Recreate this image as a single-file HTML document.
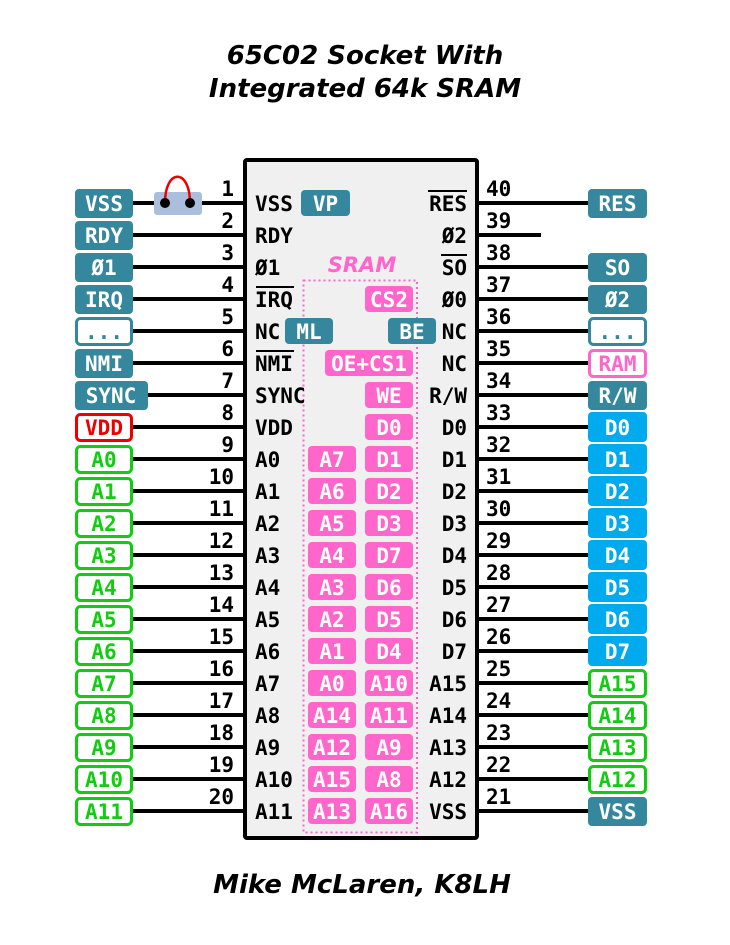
<!DOCTYPE html>
<html><head><meta charset="utf-8"><style>
html,body{margin:0;padding:0;background:#fff}
svg{display:block}
.m{font-family:"DejaVu Sans Mono","Liberation Mono",monospace;font-weight:bold;font-size:21px}
.t{font-family:"DejaVu Sans","Liberation Sans",sans-serif;font-weight:bold;font-style:italic}
</style></head><body>
<svg width="730" height="945" viewBox="0 0 730 945" xmlns="http://www.w3.org/2000/svg">
<text class="t" x="365" y="64" font-size="26" text-anchor="middle">65C02 Socket With</text>
<text class="t" x="365" y="97" font-size="26" text-anchor="middle">Integrated 64k SRAM</text>
<text class="t" x="362" y="893" font-size="26" text-anchor="middle">Mike McLaren, K8LH</text>

<rect x="245" y="160" width="232" height="678" fill="#f0f0f0" stroke="#000" stroke-width="4" rx="2"/>
<rect x="303.5" y="280.5" width="113.5" height="552" fill="none" stroke="#ff66cc" stroke-width="2" stroke-dasharray="2,3"/>
<text class="t" x="362" y="272" font-size="21" fill="#ff66cc" text-anchor="middle">SRAM</text>

<g stroke="#000" stroke-width="4">
<line x1="133" y1="203" x2="245" y2="203"/><line x1="133" y1="235" x2="245" y2="235"/><line x1="133" y1="267" x2="245" y2="267"/><line x1="133" y1="299" x2="245" y2="299"/><line x1="133" y1="331" x2="245" y2="331"/><line x1="133" y1="363" x2="245" y2="363"/><line x1="133" y1="395" x2="245" y2="395"/><line x1="133" y1="427" x2="245" y2="427"/><line x1="133" y1="459" x2="245" y2="459"/><line x1="133" y1="491" x2="245" y2="491"/><line x1="133" y1="523" x2="245" y2="523"/><line x1="133" y1="555" x2="245" y2="555"/><line x1="133" y1="587" x2="245" y2="587"/><line x1="133" y1="619" x2="245" y2="619"/><line x1="133" y1="651" x2="245" y2="651"/><line x1="133" y1="683" x2="245" y2="683"/><line x1="133" y1="715" x2="245" y2="715"/><line x1="133" y1="747" x2="245" y2="747"/><line x1="133" y1="779" x2="245" y2="779"/><line x1="133" y1="811" x2="245" y2="811"/>
<line x1="477" y1="203" x2="588" y2="203"/><line x1="477" y1="235" x2="541" y2="235"/><line x1="477" y1="267" x2="588" y2="267"/><line x1="477" y1="299" x2="588" y2="299"/><line x1="477" y1="331" x2="588" y2="331"/><line x1="477" y1="363" x2="588" y2="363"/><line x1="477" y1="395" x2="588" y2="395"/><line x1="477" y1="427" x2="588" y2="427"/><line x1="477" y1="459" x2="588" y2="459"/><line x1="477" y1="491" x2="588" y2="491"/><line x1="477" y1="523" x2="588" y2="523"/><line x1="477" y1="555" x2="588" y2="555"/><line x1="477" y1="587" x2="588" y2="587"/><line x1="477" y1="619" x2="588" y2="619"/><line x1="477" y1="651" x2="588" y2="651"/><line x1="477" y1="683" x2="588" y2="683"/><line x1="477" y1="715" x2="588" y2="715"/><line x1="477" y1="747" x2="588" y2="747"/><line x1="477" y1="779" x2="588" y2="779"/><line x1="477" y1="811" x2="588" y2="811"/>
</g>

<rect x="154" y="192" width="48" height="23" rx="3" fill="#aabfdd"/>
<path d="M165,203 C165,168 190,168 190,203" fill="none" stroke="#ee0000" stroke-width="2.5"/>
<circle cx="165" cy="203" r="5" fill="#000"/><circle cx="190" cy="203" r="5" fill="#000"/>

<g class="m" text-anchor="middle">
<g fill="#35879e">
<rect x="75" y="189" width="58" height="29" rx="4"/><rect x="75" y="221" width="58" height="29" rx="4"/><rect x="75" y="253" width="58" height="29" rx="4"/><rect x="75" y="285" width="58" height="29" rx="4"/><rect x="75" y="349" width="58" height="29" rx="4"/><rect x="75" y="381" width="73" height="29" rx="4"/>
</g>
<rect x="76.5" y="318.5" width="55" height="26" rx="4" fill="#fff" stroke="#35879e" stroke-width="3"/>
<rect x="76.5" y="414.5" width="55" height="26" rx="4" fill="#fff" stroke="#ee0000" stroke-width="3"/>
<g fill="#fff" stroke="#11cc11" stroke-width="3">
<rect x="76.5" y="446.5" width="55" height="26" rx="4"/><rect x="76.5" y="478.5" width="55" height="26" rx="4"/><rect x="76.5" y="510.5" width="55" height="26" rx="4"/><rect x="76.5" y="542.5" width="55" height="26" rx="4"/><rect x="76.5" y="574.5" width="55" height="26" rx="4"/><rect x="76.5" y="606.5" width="55" height="26" rx="4"/><rect x="76.5" y="638.5" width="55" height="26" rx="4"/><rect x="76.5" y="670.5" width="55" height="26" rx="4"/><rect x="76.5" y="702.5" width="55" height="26" rx="4"/><rect x="76.5" y="734.5" width="55" height="26" rx="4"/><rect x="76.5" y="766.5" width="55" height="26" rx="4"/><rect x="76.5" y="798.5" width="55" height="26" rx="4"/>
</g>
<g fill="#fff">
<text x="104" y="211">VSS</text><text x="104" y="243">RDY</text><text x="104" y="275">Ø1</text><text x="104" y="307">IRQ</text><text x="104" y="339" fill="#35879e">...</text><text x="104" y="371">NMI</text><text x="111" y="403">SYNC</text>
</g>
<text x="104" y="435" fill="#ee0000">VDD</text>
<g fill="#11cc11">
<text x="104" y="467">A0</text><text x="104" y="499">A1</text><text x="104" y="531">A2</text><text x="104" y="563">A3</text><text x="104" y="595">A4</text><text x="104" y="627">A5</text><text x="104" y="659">A6</text><text x="104" y="691">A7</text><text x="104" y="723">A8</text><text x="104" y="755">A9</text><text x="104" y="787">A10</text><text x="104" y="819">A11</text>
</g>
</g>

<g class="m" text-anchor="middle">
<g fill="#35879e">
<rect x="588" y="189" width="59" height="29" rx="4"/><rect x="588" y="253" width="59" height="29" rx="4"/><rect x="588" y="285" width="59" height="29" rx="4"/><rect x="588" y="381" width="59" height="29" rx="4"/><rect x="588" y="797" width="59" height="29" rx="4"/>
</g>
<rect x="589.5" y="318.5" width="56" height="26" rx="4" fill="#fff" stroke="#35879e" stroke-width="3"/>
<rect x="589.5" y="350.5" width="56" height="26" rx="4" fill="#fff" stroke="#ff66cc" stroke-width="3"/>
<g fill="#00aaee">
<rect x="588" y="412" width="59" height="30" rx="4"/><rect x="588" y="444" width="59" height="30" rx="4"/><rect x="588" y="476" width="59" height="30" rx="4"/><rect x="588" y="508" width="59" height="30" rx="4"/><rect x="588" y="540" width="59" height="30" rx="4"/><rect x="588" y="572" width="59" height="30" rx="4"/><rect x="588" y="604" width="59" height="30" rx="4"/><rect x="588" y="636" width="59" height="30" rx="4"/>
</g>
<g fill="#fff" stroke="#11cc11" stroke-width="3">
<rect x="589.5" y="670.5" width="56" height="26" rx="4"/><rect x="589.5" y="702.5" width="56" height="26" rx="4"/><rect x="589.5" y="734.5" width="56" height="26" rx="4"/><rect x="589.5" y="766.5" width="56" height="26" rx="4"/>
</g>
<g fill="#fff">
<text x="617.5" y="211">RES</text><text x="617.5" y="275">SO</text><text x="617.5" y="307">Ø2</text><text x="617.5" y="403">R/W</text>
<text x="617.5" y="435">D0</text><text x="617.5" y="467">D1</text><text x="617.5" y="499">D2</text><text x="617.5" y="531">D3</text><text x="617.5" y="563">D4</text><text x="617.5" y="595">D5</text><text x="617.5" y="627">D6</text><text x="617.5" y="659">D7</text>
<text x="617.5" y="819">VSS</text>
</g>
<text x="617.5" y="339" fill="#35879e">...</text>
<text x="617.5" y="371" fill="#ff66cc">RAM</text>
<g fill="#11cc11">
<text x="617.5" y="691">A15</text><text x="617.5" y="723">A14</text><text x="617.5" y="755">A13</text><text x="617.5" y="787">A12</text>
</g>
</g>

<g class="m" text-anchor="end">
<text x="234" y="196">1</text><text x="234" y="228">2</text><text x="234" y="260">3</text><text x="234" y="292">4</text><text x="234" y="324">5</text><text x="234" y="356">6</text><text x="234" y="388">7</text><text x="234" y="420">8</text><text x="234" y="452">9</text><text x="234" y="484">10</text><text x="234" y="516">11</text><text x="234" y="548">12</text><text x="234" y="580">13</text><text x="234" y="612">14</text><text x="234" y="644">15</text><text x="234" y="676">16</text><text x="234" y="708">17</text><text x="234" y="740">18</text><text x="234" y="772">19</text><text x="234" y="804">20</text>
</g>
<g class="m">
<text x="486" y="196">40</text><text x="486" y="228">39</text><text x="486" y="260">38</text><text x="486" y="292">37</text><text x="486" y="324">36</text><text x="486" y="356">35</text><text x="486" y="388">34</text><text x="486" y="420">33</text><text x="486" y="452">32</text><text x="486" y="484">31</text><text x="486" y="516">30</text><text x="486" y="548">29</text><text x="486" y="580">28</text><text x="486" y="612">27</text><text x="486" y="644">26</text><text x="486" y="676">25</text><text x="486" y="708">24</text><text x="486" y="740">23</text><text x="486" y="772">22</text><text x="486" y="804">21</text>
</g>

<g class="m">
<text x="255" y="211">VSS</text><text x="255" y="243">RDY</text><text x="255" y="275">Ø1</text><text x="255" y="307">IRQ</text><text x="255" y="339">NC</text><text x="255" y="371">NMI</text><text x="255" y="403">SYNC</text><text x="255" y="435">VDD</text><text x="255" y="467">A0</text><text x="255" y="499">A1</text><text x="255" y="531">A2</text><text x="255" y="563">A3</text><text x="255" y="595">A4</text><text x="255" y="627">A5</text><text x="255" y="659">A6</text><text x="255" y="691">A7</text><text x="255" y="723">A8</text><text x="255" y="755">A9</text><text x="255" y="787">A10</text><text x="255" y="819">A11</text>
</g>
<g class="m" text-anchor="end">
<text x="467" y="211">RES</text><text x="467" y="243">Ø2</text><text x="467" y="275">SO</text><text x="467" y="307">Ø0</text><text x="467" y="339">NC</text><text x="467" y="371">NC</text><text x="467" y="403">R/W</text><text x="467" y="435">D0</text><text x="467" y="467">D1</text><text x="467" y="499">D2</text><text x="467" y="531">D3</text><text x="467" y="563">D4</text><text x="467" y="595">D5</text><text x="467" y="627">D6</text><text x="467" y="659">D7</text><text x="467" y="691">A15</text><text x="467" y="723">A14</text><text x="467" y="755">A13</text><text x="467" y="787">A12</text><text x="467" y="819">VSS</text>
</g>
<g stroke="#000" stroke-width="2">
<line x1="256" y1="287" x2="294" y2="287"/><line x1="256" y1="351" x2="294" y2="351"/><line x1="428" y1="191" x2="467" y2="191"/><line x1="441" y1="255" x2="467" y2="255"/>
</g>

<g fill="#35879e">
<rect x="301" y="190" width="49" height="26" rx="4"/><rect x="285" y="318" width="48" height="26" rx="4"/><rect x="388" y="318" width="48" height="26" rx="4"/>
</g>
<g fill="#ff66cc">
<rect x="365" y="286" width="48" height="26" rx="4"/><rect x="325" y="350" width="88" height="26" rx="4"/><rect x="365" y="382" width="48" height="26" rx="4"/><rect x="365" y="414" width="48" height="26" rx="4"/>
<rect x="308" y="446" width="48" height="26" rx="4"/><rect x="365" y="446" width="48" height="26" rx="4"/>
<rect x="308" y="478" width="48" height="26" rx="4"/><rect x="365" y="478" width="48" height="26" rx="4"/>
<rect x="308" y="510" width="48" height="26" rx="4"/><rect x="365" y="510" width="48" height="26" rx="4"/>
<rect x="308" y="542" width="48" height="26" rx="4"/><rect x="365" y="542" width="48" height="26" rx="4"/>
<rect x="308" y="574" width="48" height="26" rx="4"/><rect x="365" y="574" width="48" height="26" rx="4"/>
<rect x="308" y="606" width="48" height="26" rx="4"/><rect x="365" y="606" width="48" height="26" rx="4"/>
<rect x="308" y="638" width="48" height="26" rx="4"/><rect x="365" y="638" width="48" height="26" rx="4"/>
<rect x="308" y="670" width="48" height="26" rx="4"/><rect x="365" y="670" width="48" height="26" rx="4"/>
<rect x="308" y="702" width="48" height="26" rx="4"/><rect x="365" y="702" width="48" height="26" rx="4"/>
<rect x="308" y="734" width="48" height="26" rx="4"/><rect x="365" y="734" width="48" height="26" rx="4"/>
<rect x="308" y="766" width="48" height="26" rx="4"/><rect x="365" y="766" width="48" height="26" rx="4"/>
<rect x="308" y="798" width="48" height="26" rx="4"/><rect x="365" y="798" width="48" height="26" rx="4"/>
</g>
<g class="m" fill="#fff" text-anchor="middle">
<text x="325.5" y="211">VP</text><text x="309" y="339">ML</text><text x="412" y="339">BE</text>
<text x="389" y="307">CS2</text><text x="369" y="371">OE+CS1</text><text x="389" y="403">WE</text><text x="389" y="435">D0</text>
<text x="332" y="467">A7</text><text x="389" y="467">D1</text>
<text x="332" y="499">A6</text><text x="389" y="499">D2</text>
<text x="332" y="531">A5</text><text x="389" y="531">D3</text>
<text x="332" y="563">A4</text><text x="389" y="563">D7</text>
<text x="332" y="595">A3</text><text x="389" y="595">D6</text>
<text x="332" y="627">A2</text><text x="389" y="627">D5</text>
<text x="332" y="659">A1</text><text x="389" y="659">D4</text>
<text x="332" y="691">A0</text><text x="389" y="691">A10</text>
<text x="332" y="723">A14</text><text x="389" y="723">A11</text>
<text x="332" y="755">A12</text><text x="389" y="755">A9</text>
<text x="332" y="787">A15</text><text x="389" y="787">A8</text>
<text x="332" y="819">A13</text><text x="389" y="819">A16</text>
</g>
</svg>
</body></html>
